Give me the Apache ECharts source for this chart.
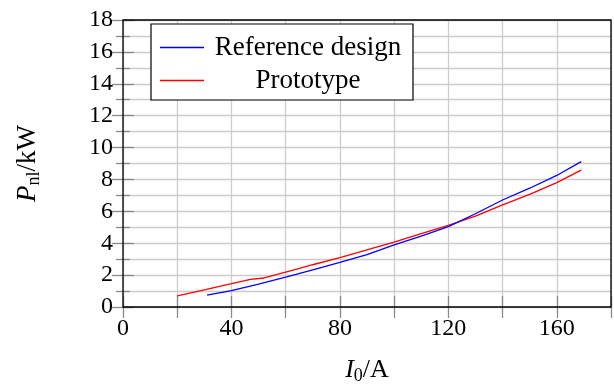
<!DOCTYPE html>
<html><head><meta charset="utf-8">
<script src="https://cdn.jsdelivr.net/npm/echarts@6/dist/echarts.min.js"></script>
<style>html,body{margin:0;padding:0;background:#fff}#c{width:614px;height:390px}</style>
</head><body><div id="c"></div>
<script>
var refX = [31, 40, 50, 60, 70, 80, 90, 100, 110, 120, 130, 140, 150, 160, 169];
var refY = [0.74, 1.03, 1.44, 1.87, 2.33, 2.80, 3.28, 3.89, 4.45, 5.04, 5.85, 6.71, 7.45, 8.25, 9.12];
var protoX = [20, 30, 40, 47, 52, 60, 70, 80, 90, 100, 110, 120, 130, 140, 150, 160, 169];
var protoY = [0.70, 1.08, 1.46, 1.73, 1.82, 2.18, 2.65, 3.10, 3.58, 4.07, 4.60, 5.12, 5.70, 6.40, 7.06, 7.80, 8.58];
var seriesNames = ['Reference design', 'Prototype'];
var xTickLabels = [0, 40, 80, 120, 160];
var yTickLabels = [0, 2, 4, 6, 8, 10, 12, 14, 16, 18];

function pairs(xs, ys){ return xs.map(function(x,i){return [x, ys[i]];}); }
var FONT = 'Liberation Serif';
function gridLine(){ return {show:true, lineStyle:{color:'#cccccc', width:1.3, type:'solid'}}; }
function tickStyle(){ return {color:'#8a8a8a', width:1.3}; }
var chart = echarts.init(document.getElementById('c'));
chart.setOption({
  animation:false,
  backgroundColor:'#fff',
  grid:{left:123, right:1, top:20, bottom:78, show:true, borderColor:'#000', borderWidth:1.3, backgroundColor:'rgba(0,0,0,0)', z:10},
  legend:{
    show:true, orient:'vertical', left:151, top:24, width:266,
    backgroundColor:'#fff', borderColor:'#000', borderWidth:1.2,
    padding:[10,6,6,9], itemGap:6, itemWidth:44, itemHeight:1.5, icon:'rect',
    data: seriesNames,
    formatter:function(n){return '{t|'+n+'}';},
    textStyle:{fontFamily:FONT, fontSize:27, color:'#000',
      rich:{t:{fontFamily:FONT, fontSize:27, width:198, align:'center', lineHeight:31}}}
  },
  xAxis:[{
    type:'value', min:0, max:180, interval:20, position:'bottom',
    axisLine:{show:false},
    axisTick:{show:true, inside:true, length:11, lineStyle:tickStyle()},
    splitLine:gridLine(),
    axisLabel:{fontFamily:FONT, fontSize:24, color:'#000', margin:10,
      formatter:function(v){return xTickLabels.indexOf(v)>=0 ? String(v) : '';}},
    name:'{i|I}{s|0}{n|/A}', nameLocation:'middle', nameGap:48,
    nameTextStyle:{rich:{
      i:{fontFamily:FONT, fontSize:26, fontStyle:'italic', color:'#000'},
      s:{fontFamily:FONT, fontSize:18, color:'#000', padding:[12,0,0,0]},
      n:{fontFamily:FONT, fontSize:26, color:'#000'}}}
  },{
    type:'value', min:0, max:180, interval:20, position:'top',
    axisLine:{show:false}, axisLabel:{show:false}, splitLine:{show:false},
    axisTick:{show:true, inside:true, length:11, lineStyle:tickStyle()}
  }],
  yAxis:[{
    type:'value', min:0, max:18, interval:2, position:'left',
    axisLine:{show:false},
    axisTick:{show:true, inside:true, length:11, lineStyle:tickStyle()},
    minorTick:{show:true, splitNumber:2, length:7, lineStyle:tickStyle()},
    splitLine:gridLine(), minorSplitLine:gridLine(),
    axisLabel:{fontFamily:FONT, fontSize:24, color:'#000', margin:10,
      formatter:function(v){return yTickLabels.indexOf(v)>=0 ? String(v) : '';}},
    name:'{i|P}{s|nl}{n|/kW}', nameLocation:'middle', nameRotate:90, nameGap:80,
    nameTextStyle:{rich:{
      i:{fontFamily:FONT, fontSize:27, fontStyle:'italic', color:'#000'},
      s:{fontFamily:FONT, fontSize:18, color:'#000', padding:[12,0,0,0]},
      n:{fontFamily:FONT, fontSize:27, color:'#000'}}}
  },{
    type:'value', min:0, max:18, interval:2, position:'right',
    axisLine:{show:false}, axisLabel:{show:false}, splitLine:{show:false},
    axisTick:{show:true, inside:true, length:11, lineStyle:tickStyle()},
    minorTick:{show:true, splitNumber:2, length:7, lineStyle:tickStyle()}
  }],
  series:[
    {name:seriesNames[0], type:'line', data:pairs(refX, refY), showSymbol:false, symbol:'none',
     lineStyle:{color:'#0000ff', width:1.3}, itemStyle:{color:'#0000ff'}, z:3},
    {name:seriesNames[1], type:'line', data:pairs(protoX, protoY), showSymbol:false, symbol:'none',
     lineStyle:{color:'#ff0000', width:1.3}, itemStyle:{color:'#ff0000'}, z:2}
  ]
});
</script></body></html>
